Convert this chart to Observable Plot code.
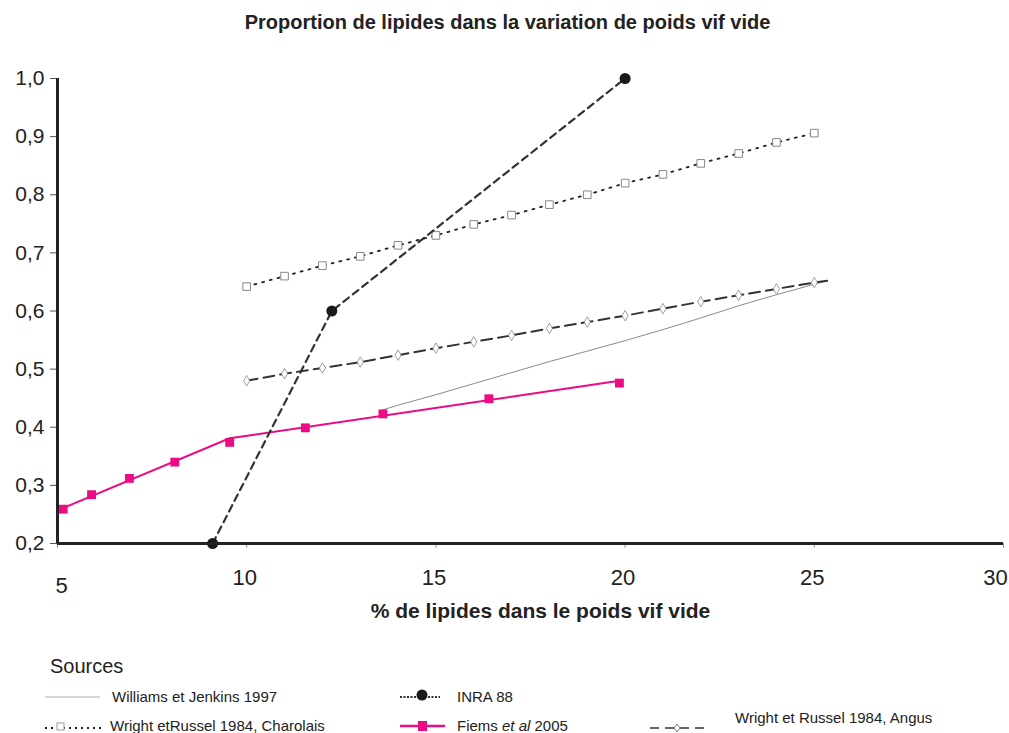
<!DOCTYPE html>
<html>
<head>
<meta charset="utf-8">
<script src="https://cdn.jsdelivr.net/npm/d3@7"></script>
<script src="https://cdn.jsdelivr.net/npm/@observablehq/plot@0.6"></script>
<style>
  body { margin: 0; background: #fff; font-family: "Liberation Sans", Arial, sans-serif; color: #222; }
  #title { height: 44px; line-height: 44px; text-align: center; font-weight: bold; font-size: 20px; padding-left: 6px; }
  #legend { position: relative; height: 89px; font-size: 15px; }
  .li { position: absolute; white-space: nowrap; }
  .li svg { position: absolute; }
</style>
</head>
<body>
<div id="title">Proportion de lipides dans la variation de poids vif vide</div>
<div id="chart"></div>
<div id="legend"></div>
<script>
// ---- data ----
const yTicks = [0.2, 0.3, 0.4, 0.5, 0.6, 0.7, 0.8, 0.9, 1.0];
const xTicks = [5, 10, 15, 20, 25, 30];

const wrX = [10, 11, 12, 13, 14, 15, 16, 17, 18, 19, 20, 21, 22, 23, 24, 25];
const charolaisY = [0.642, 0.660, 0.678, 0.694, 0.713, 0.730, 0.749, 0.765, 0.783, 0.800, 0.820, 0.835, 0.854, 0.871, 0.890, 0.906];
const angusY = [0.480, 0.492, 0.502, 0.512, 0.524, 0.536, 0.547, 0.558, 0.570, 0.581, 0.592, 0.604, 0.616, 0.627, 0.638, 0.649];
const angusLineEndX = 25.35, angusLineEndY = 0.652;

const williamsX = [13.6, 14, 15, 16, 17, 18, 19, 20, 21, 22, 23, 24, 25, 25.35];
const williamsY = [0.430, 0.438, 0.456, 0.475, 0.494, 0.513, 0.531, 0.549, 0.568, 0.588, 0.609, 0.628, 0.646, 0.652];

const inraX = [9.1, 12.25, 20.0];
const inraY = [0.2, 0.6, 1.0];

const fiemsX = [5.15, 5.9, 6.9, 8.1, 9.55, 11.55, 13.6, 16.4, 19.85];
const fiemsY = [0.259, 0.284, 0.312, 0.340, 0.374, 0.399, 0.423, 0.449, 0.476];
const fiemsLineX = [5.0, 9.55, 19.85];
const fiemsLineY = [0.257, 0.381, 0.480];

const series = ["Williams et Jenkins 1997", "INRA 88", "Wright etRussel 1984, Charolais", "Fiems et al 2005", "Wright et Russel 1984, Angus"];

// ---- tables ----
const zip = (xs, ys) => xs.map((x, i) => ({x, y: ys[i]}));
const charolais = zip(wrX, charolaisY);
const angusPts = zip(wrX, angusY);
const angusLine = [...angusPts, {x: angusLineEndX, y: angusLineEndY}];
const williams = zip(williamsX, williamsY);
const inra = zip(inraX, inraY);
const fiems = zip(fiemsX, fiemsY);
const fiemsLine = zip(fiemsLineX, fiemsLineY);

const PINK = "#ec0b83";
const comma = d => d3.format(".1f")(d).replace(".", ",");
const xFirst = xTicks.slice(0, 1), xMid = xTicks.slice(1, -1), xLast = xTicks.slice(-1);

const chart = Plot.plot({
  width: 1009,
  height: 600,
  marginTop: 34,
  marginLeft: 57,
  marginRight: 6,
  marginBottom: 101,
  style: {fontFamily: "'Liberation Sans', Arial, sans-serif", color: "#222", background: "#fff"},
  x: {domain: [5, 30], label: null},
  y: {domain: [0.2, 1.0], label: null},
  marks: [
    Plot.axisY({ticks: yTicks, tickFormat: comma, tickSize: 7, tickPadding: 6, fontSize: 21, label: null, stroke: "#555"}),
    Plot.axisX({ticks: xTicks, tickFormat: () => "", tickSize: 5, label: null, stroke: "#999"}),
    Plot.axisX({ticks: xFirst, tickFormat: String, tickSize: 0, tickPadding: 34, dx: 4, fontSize: 22, label: null}),
    Plot.axisX({ticks: xMid, tickFormat: String, tickSize: 0, tickPadding: 26, dx: -2, fontSize: 22, label: null}),
    Plot.axisX({ticks: xLast, tickFormat: String, tickSize: 0, tickPadding: 26, dx: -8, fontSize: 22, label: null}),
    Plot.line(williams, {x: "x", y: "y", stroke: "#8a8a8a", strokeWidth: 1}),
    Plot.line(angusLine, {x: "x", y: "y", stroke: "#333", strokeWidth: 2, strokeDasharray: "11,6"}),
    Plot.dot(angusPts, {x: "x", y: "y", symbol: "diamond", r: 3.2, fill: "#fff", stroke: "#888", strokeWidth: 0.8}),
    Plot.line(charolais, {x: "x", y: "y", stroke: "#222", strokeWidth: 1.8, strokeDasharray: "2,6"}),
    Plot.dot(charolais, {x: "x", y: "y", symbol: "square", r: 4.3, fill: "#fff", stroke: "#888", strokeWidth: 1}),
    Plot.line(fiemsLine, {x: "x", y: "y", stroke: PINK, strokeWidth: 2}),
    Plot.dot(fiems, {x: "x", y: "y", symbol: "square", r: 5, fill: PINK}),
    Plot.line(inra, {x: "x", y: "y", stroke: "#333", strokeWidth: 2.2, strokeDasharray: "7,5"}),
    Plot.dot(inra, {x: "x", y: "y", r: 5.5, fill: "#1a1a1a"}),
    Plot.ruleX([5], {stroke: "#222", strokeWidth: 3}),
    Plot.ruleY([0.2], {stroke: "#222", strokeWidth: 3}),
    Plot.text(["% de lipides dans le poids vif vide"], {frameAnchor: "bottom", dy: 74, dx: 10, fontSize: 21, fontWeight: "bold", fill: "#222"})
  ]
});
document.getElementById("chart").appendChild(chart);

// ---- legend ----
const legend = document.getElementById("legend");
function item(left, top, sampleSvg, sw, html, textLeft) {
  const d = document.createElement("div");
  d.className = "li";
  d.style.left = left + "px";
  d.style.top = top + "px";
  d.innerHTML = `<svg width="${sw}" height="16" style="left:0;top:1px">${sampleSvg}</svg><span style="position:absolute;left:${textLeft}px;top:0">${html}</span>`;
  legend.appendChild(d);
  return d;
}
const sources = document.createElement("div");
sources.className = "li";
sources.style.left = "50px"; sources.style.top = "11px"; sources.style.fontSize = "20px";
sources.textContent = "Sources";
legend.appendChild(sources);

item(45, 44, `<line x1="0" y1="8" x2="55" y2="8" stroke="#b0b0b0" stroke-width="1.2"/>`, 60, series[0], 67);
item(400, 44, `<line x1="0" y1="8" x2="40" y2="8" stroke="#333" stroke-width="2" stroke-dasharray="2,1.5"/><circle cx="22" cy="6" r="5.5" fill="#1a1a1a"/>`, 45, series[1], 57);
item(45, 73, `<line x1="0" y1="10" x2="60" y2="10" stroke="#222" stroke-width="2" stroke-dasharray="2,4"/><rect x="12" y="5" width="7" height="7" fill="#fff" stroke="#999"/>`, 62, series[2], 65);
item(400, 73, `<line x1="0" y1="8" x2="45" y2="8" stroke="${PINK}" stroke-width="2.5"/><rect x="18" y="3" width="9" height="10" fill="${PINK}"/>`, 50, `Fiems <i>et al</i> 2005`, 57);
const angusItem = item(650, 73, `<line x1="0" y1="10" x2="55" y2="10" stroke="#333" stroke-width="1.5" stroke-dasharray="9,6"/><path d="M27,6 L30,10 L27,14 L24,10 Z" fill="#fff" stroke="#777"/>`, 60, series[4], 85);
angusItem.querySelector("span").style.top = "-8px";
</script>
</body>
</html>
